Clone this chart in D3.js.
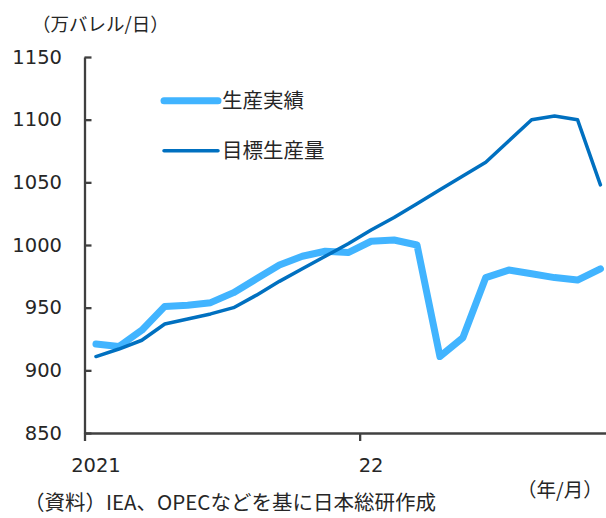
<!DOCTYPE html>
<html>
<head>
<meta charset="utf-8">
<script src="https://cdn.jsdelivr.net/npm/d3@7"></script>
<style>
  body { margin: 0; background: #fff; }
  svg { display: block; }
</style>
</head>
<body>
<svg id="chart" width="606" height="518"></svg>
<script>
// months 2021/1 .. 2022/11
var months = ["2021/1","2021/2","2021/3","2021/4","2021/5","2021/6","2021/7","2021/8","2021/9","2021/10","2021/11","2021/12",
              "2022/1","2022/2","2022/3","2022/4","2022/5","2022/6","2022/7","2022/8","2022/9","2022/10","2022/11"];
var actual = [921, 919, 932, 951, 952, 954, 962, 973, 984, 991, 995, 994,
              1003, 1004, 1000, 911, 926, 974, 980, 977, 974, 972, 981];
var target = [911, 917, 924, 937, 941, 945, 950, 960, 971, 981, 991, 1001,
              1012, 1022, 1033, 1044, 1055, 1066, 1083, 1100, 1103, 1100, 1048];
var yTicks = [850, 900, 950, 1000, 1050, 1100, 1150];
var xTickIdx = [0, 12];
var xTickLabels = ["2021", "22"];
var seriesNames = ["生産実績", "目標生産量"];

var svg = d3.select("#chart");
var axisColor = "#404040";
var textColor = "#262626";
var lightBlue = "#41B4FF";
var darkBlue = "#0070C0";

// category boundaries: 0..23, points sit in the middle of each
var x = d3.scaleLinear().domain([0, months.length]).range([84.5, 84.5 + 22.93 * months.length]);
var y = d3.scaleLinear().domain([850, 1150]).range([433, 57]);

// y axis
var yAxis = svg.append("g")
  .attr("transform", "translate(84.5,0)")
  .call(d3.axisLeft(y).tickValues(yTicks).tickFormat(d3.format("d"))
    .tickSizeInner(-7).tickSizeOuter(0).tickPadding(22.5));
yAxis.select(".domain").attr("stroke", axisColor).attr("stroke-width", 2.3);
yAxis.selectAll(".tick line").attr("stroke", axisColor).attr("stroke-width", 2.3);
yAxis.selectAll(".tick text")
  .attr("fill", textColor)
  .style("font-family", "'DejaVu Sans', Verdana, sans-serif")
  .style("font-size", "19.5px");

// x axis
var xAxis = svg.append("g")
  .attr("transform", "translate(0,433)")
  .call(d3.axisBottom(x).tickValues(xTickIdx).tickSizeInner(8).tickSizeOuter(0).tickFormat(""));
xAxis.select(".domain").attr("stroke", axisColor).attr("stroke-width", 2.3);
xAxis.selectAll(".tick line").attr("stroke", axisColor).attr("stroke-width", 2.3);

svg.selectAll(".xlab")
  .data(xTickIdx)
  .enter().append("text")
  .attr("class", "xlab")
  .attr("x", function(d) { return x(d + 0.5); })
  .attr("y", 472)
  .attr("text-anchor", "middle")
  .attr("fill", textColor)
  .style("font-family", "'DejaVu Sans', Verdana, sans-serif")
  .style("font-size", "19.5px")
  .text(function(d, i) { return xTickLabels[i]; });

// lines
var line = d3.line()
  .x(function(d, i) { return x(i + 0.5); })
  .y(function(d) { return y(d); });

svg.append("path")
  .datum(actual)
  .attr("d", line)
  .attr("fill", "none")
  .attr("stroke", lightBlue)
  .attr("stroke-width", 7)
  .attr("stroke-linejoin", "round")
  .attr("stroke-linecap", "round");

svg.append("path")
  .datum(target)
  .attr("d", line)
  .attr("fill", "none")
  .attr("stroke", darkBlue)
  .attr("stroke-width", 3.5)
  .attr("stroke-linejoin", "round")
  .attr("stroke-linecap", "round");

// legend
var legendColors = [lightBlue, darkBlue];
var legendWidths = [7, 3.5];
var legend = svg.selectAll(".legend")
  .data(seriesNames)
  .enter().append("g")
  .attr("class", "legend")
  .attr("transform", function(d, i) { return "translate(0," + (100.7 + i * 50) + ")"; });

legend.append("line")
  .attr("x1", 164)
  .attr("x2", 218)
  .attr("stroke", function(d, i) { return legendColors[i]; })
  .attr("stroke-width", function(d, i) { return legendWidths[i]; })
  .attr("stroke-linecap", "round");

legend.append("text")
  .attr("x", 222)
  .attr("y", 7)
  .attr("fill", textColor)
  .style("font-family", "'Noto Sans CJK JP', sans-serif")
  .style("font-size", "20.5px")
  .text(function(d) { return d; });

// unit, axis note, source
var jp = "'Noto Sans CJK JP', sans-serif";
svg.append("text")
  .attr("x", 32)
  .attr("y", 31)
  .attr("fill", textColor)
  .style("font-family", jp)
  .style("font-size", "18.5px")
  .text("（万バレル/日）");

svg.append("text")
  .attr("x", 517)
  .attr("y", 497)
  .attr("fill", textColor)
  .style("font-family", jp)
  .style("font-size", "19.5px")
  .text("（年/月）");

svg.append("text")
  .attr("x", 24)
  .attr("y", 510)
  .attr("fill", textColor)
  .style("font-family", jp)
  .style("font-size", "20.5px")
  .text("（資料）IEA、OPECなどを基に日本総研作成");
</script>
</body>
</html>
